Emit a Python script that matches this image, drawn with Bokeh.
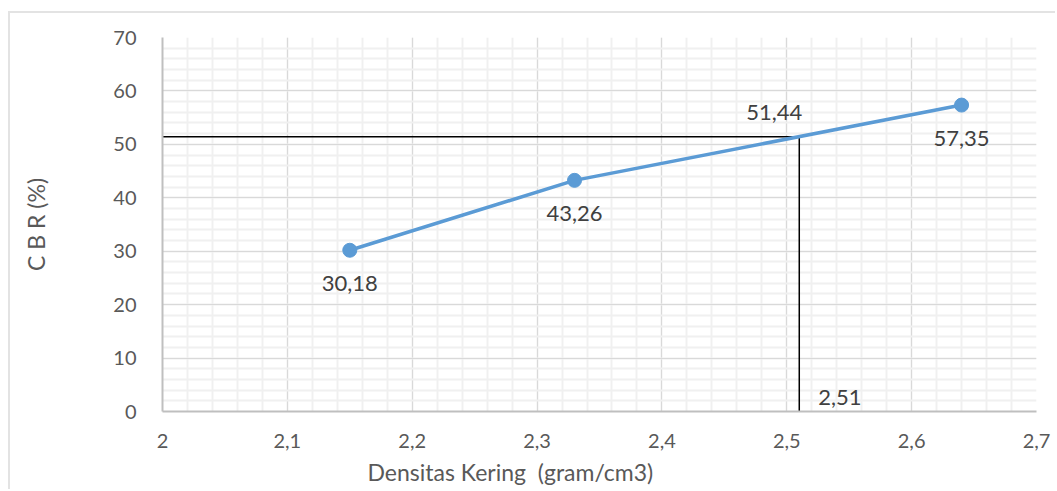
from bokeh.plotting import figure
from bokeh.models import FixedTicker, CustomJSTickFormatter, ColumnDataSource, Title
from bokeh.core.properties import value
from bokeh.embed import file_html
from bokeh.resources import INLINE

densitas = [2.15, 2.33, 2.64]
cbr = [30.18, 43.26, 57.35]
cbr_labels = ["30,18", "43,26", "57,35"]
x_target = 2.51
cbr_target = 51.44
x_target_label = "2,51"
cbr_target_label = "51,44"
x_ticks = [2.0, 2.1, 2.2, 2.3, 2.4, 2.5, 2.6, 2.7]
y_ticks = [0, 10, 20, 30, 40, 50, 60, 70]
x_title = "Densitas Kering \u00a0(gram/cm3)"
y_title = "C B R (%)"

FONT = "Lato"

p = figure(width=1047, height=478, x_range=(2.0, 2.7), y_range=(0, 70),
           output_backend="svg", toolbar_location=None,
           min_border_left=152, min_border_top=24, min_border_right=21, min_border_bottom=80)
p.margin = (11, 0, 0, 8)
p.styles = {"border-left": "2px solid #e3e3e3", "border-top": "2px solid #e3e3e3"}
p.outline_line_color = None
p.background_fill_color = "white"
p.border_fill_color = "white"

x_minor = [round(2.0 + 0.02 * i, 2) for i in range(36)]
y_minor = [2 * i for i in range(36)]
p.xaxis.ticker = FixedTicker(ticks=x_ticks, minor_ticks=x_minor)
p.yaxis.ticker = FixedTicker(ticks=y_ticks, minor_ticks=y_minor)
fmt = CustomJSTickFormatter(code="return String(Math.round(tick*10)/10).replace('.', ',');")
p.xaxis.formatter = fmt

for ax in (p.xaxis, p.yaxis):
    ax.axis_line_color = "#bfbfbf"
    ax.axis_line_width = 2
    ax.major_tick_line_color = None
    ax.minor_tick_line_color = None
    ax.major_label_text_font = FONT
    ax.major_label_text_font_size = "20px"
    ax.major_label_text_color = "#595959"
    ax.axis_label_text_font = FONT
    ax.axis_label_text_font_size = "23px"
    ax.axis_label_text_color = "#595959"
    ax.axis_label_text_font_style = "normal"

p.yaxis.axis_label = y_title
p.xaxis.major_label_standoff = 16
p.yaxis.major_label_standoff = 20
p.yaxis.axis_label_standoff = 60

p.grid.grid_line_color = "#d9d9d9"
p.grid.grid_line_width = 1
p.grid.minor_grid_line_color = "#f0f0f0"
p.grid.minor_grid_line_width = 2

# x-axis title (placed left of centre, as in the original)
p.add_layout(Title(text=x_title, align="left", offset=205, standoff=10,
                   text_font=FONT, text_font_size="23px", text_font_style="normal",
                   text_color="#595959"), "below")

# target lines
p.line([2.0, x_target], [cbr_target, cbr_target], line_color="black", line_width=1.5)
p.line([x_target, x_target], [0, cbr_target], line_color="black", line_width=1.5)

src = ColumnDataSource(dict(x=densitas, y=cbr, t=cbr_labels))
p.line("x", "y", source=src, line_color="#5b9bd5", line_width=3.5)
p.scatter("x", "y", source=src, size=14, fill_color="#5b9bd5", line_color="#5b9bd5")
p.text("x", "y", text="t", source=src, text_align="center", text_baseline="middle",
       y_offset=33, text_font=value(FONT), text_font_size="22px", text_color="#404040")

p.text([x_target], [cbr_target], text=[cbr_target_label], text_align="center",
       text_baseline="middle", x_offset=-25, y_offset=-24,
       text_font=value(FONT), text_font_size="22px", text_color="#404040")
p.text([x_target], [0], text=[x_target_label], text_align="left",
       text_baseline="middle", x_offset=19, y_offset=-14,
       text_font=value(FONT), text_font_size="22px", text_color="#404040")

open("out.html", "w").write(file_html(p, INLINE))
